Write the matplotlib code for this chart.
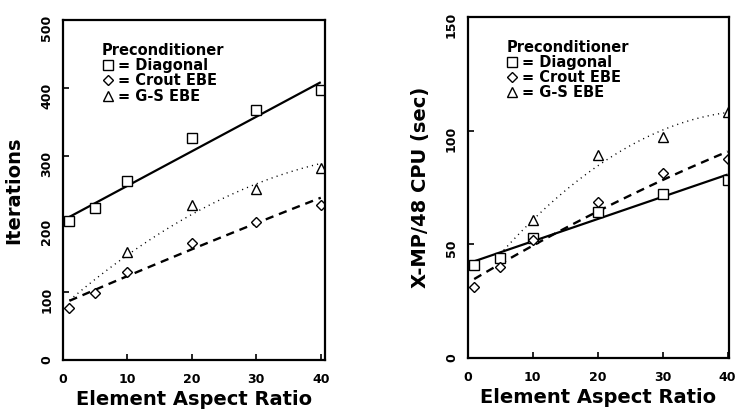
import numpy as np
import matplotlib
matplotlib.use('Agg')
import matplotlib.pyplot as plt

# element aspect ratios used in the runs
aspect = [1, 5, 10, 20, 30, 40]
aspect_gs = [10, 20, 30, 40]

# left panel - iterations
iter_diag = [204, 223, 264, 326, 368, 398]
iter_crout = [76, 98, 130, 172, 203, 228]
iter_gs = [159, 228, 251, 282]

# fitted curves (x, y)
iter_diag_fit_x = [1, 10, 20, 30, 40]
iter_diag_fit_y = [209, 258, 308, 358, 408]
iter_crout_fit_x = [1, 10, 20, 30, 40]
iter_crout_fit_y = [87, 124, 163, 201, 239]
iter_gs_fit_x = [1, 5, 10, 20, 30, 40]
iter_gs_fit_y = [88, 118, 155, 216, 257, 290]

# right panel - CPU seconds
cpu_diag = [40.9, 44.0, 52.8, 64.2, 72.0, 78.3]
cpu_crout = [31.3, 40.0, 52.0, 68.8, 81.3, 87.5]
cpu_gs = [60.7, 89.3, 97.0, 108.3]

cpu_diag_fit_x = [1, 10, 20, 30, 40]
cpu_diag_fit_y = [42.3, 51.5, 61.3, 71.0, 80.5]
cpu_crout_fit_x = [1, 5, 10, 20, 30, 40]
cpu_crout_fit_y = [34, 42, 50, 64, 78, 91]
cpu_gs_fit_x = [5, 10, 20, 30, 40]
cpu_gs_fit_y = [46, 60, 85, 100, 108]

labels = ['= Diagonal', '= Crout EBE', '= G-S EBE']


def smooth(xs, ys, deg=2):
    coef = np.polyfit(xs, ys, deg)
    xx = np.linspace(min(xs), max(xs), 100)
    return xx, np.polyval(coef, xx)


def draw_panel(ax, diag, crout, gs, fits, ylim, yticks, ylabel, xmax, ylabelpad):
    (dx, dy), (cx, cy), (gx, gy) = fits
    xx, yy = smooth(dx, dy, 1)
    ax.plot(xx, yy, color='k', lw=1.6, solid_capstyle='butt')
    xx, yy = smooth(cx, cy, 2)
    ax.plot(xx, yy, color='k', lw=1.7, dashes=(3.5, 2.5))
    xx, yy = smooth(gx, gy, 2)
    ax.plot(xx, yy, color='k', lw=1.0, dashes=(0.8, 3))

    h1, = ax.plot(aspect, diag, 's', ms=7, mfc='white', mec='k', mew=1.0, ls='none', label=labels[0])
    h2, = ax.plot(aspect, crout, 'D', ms=5.5, mfc='white', mec='k', mew=1.0, ls='none', label=labels[1])
    h3, = ax.plot(aspect_gs, gs, '^', ms=7, mfc='white', mec='k', mew=1.0, ls='none', label=labels[2])

    ax.set_xlim(0, xmax)
    ax.set_ylim(*ylim)
    ax.set_xticks([0, 10, 20, 30, 40])
    ax.set_yticks(yticks)
    ax.tick_params(direction='in', length=4, width=1.2, labelsize=9)
    ax.tick_params(axis='x', pad=9)
    ax.tick_params(axis='y', labelrotation=90, pad=7)
    for lab in ax.get_xticklabels() + ax.get_yticklabels():
        lab.set_fontweight('heavy')
    for sp in ax.spines.values():
        sp.set_linewidth(1.6)
    ax.set_xlabel('Element Aspect Ratio', fontsize=14, fontweight='heavy', labelpad=3)
    ax.set_ylabel(ylabel, fontsize=14, fontweight='heavy', labelpad=ylabelpad)

    leg = ax.legend(handles=[h1, h2, h3], title='Preconditioner', loc='upper left',
                    bbox_to_anchor=(0.12, 0.955), frameon=False, borderpad=0,
                    handlelength=0.8, handletextpad=0.3, labelspacing=0.02,
                    prop={'size': 10.5, 'weight': 'heavy'},
                    title_fontproperties={'size': 10.5, 'weight': 'heavy'},
                    alignment='left')
    return leg


fig = plt.figure(figsize=(7.37, 4.12), dpi=100)
ax1 = fig.add_axes([0.0855, 0.126, 0.355, 0.825])
ax2 = fig.add_axes([0.6346, 0.131, 0.3545, 0.828])

draw_panel(ax1, iter_diag, iter_crout, iter_gs,
           [(iter_diag_fit_x, iter_diag_fit_y), (iter_crout_fit_x, iter_crout_fit_y),
            (iter_gs_fit_x, iter_gs_fit_y)],
           (0, 500), [0, 100, 200, 300, 400, 500], 'Iterations', 40.6, 12)
draw_panel(ax2, cpu_diag, cpu_crout, cpu_gs,
           [(cpu_diag_fit_x, cpu_diag_fit_y), (cpu_crout_fit_x, cpu_crout_fit_y),
            (cpu_gs_fit_x, cpu_gs_fit_y)],
           (0, 150), [0, 50, 100, 150], 'X-MP/48 CPU (sec)', 40.2, 11)

fig.savefig('out.png', dpi=100)
